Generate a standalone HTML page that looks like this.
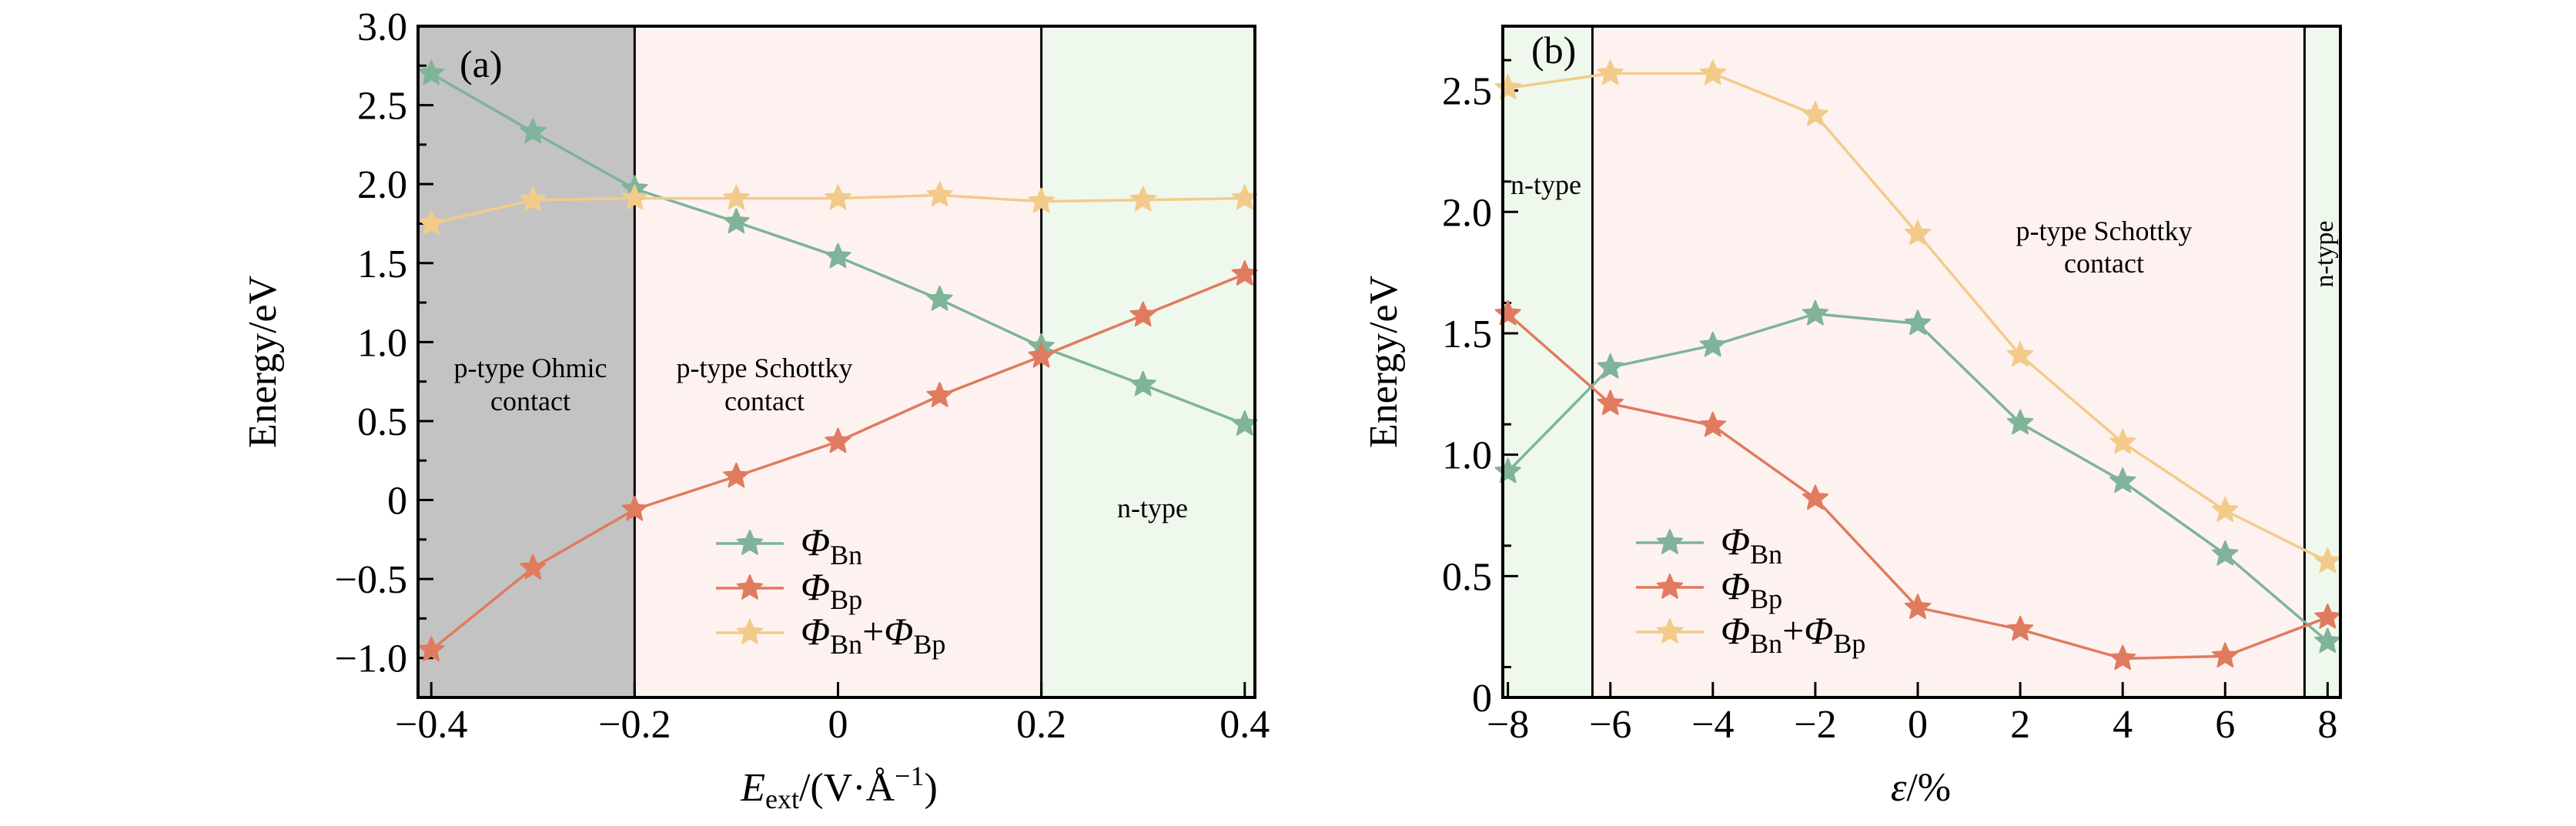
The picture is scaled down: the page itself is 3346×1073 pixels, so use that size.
<!DOCTYPE html>
<html><head><meta charset="utf-8"><style>
html,body{margin:0;padding:0;background:#fff;}
svg{display:block;font-family:"Liberation Serif",serif;}
</style></head><body>
<svg id="chart" width="3346" height="1073" viewBox="0 0 3346 1073" xmlns="http://www.w3.org/2000/svg"></svg>
<script>
// Panel (a) data
const xA = [-0.4,-0.3,-0.2,-0.1,0,0.1,0.2,0.3,0.4];
const bnA = [2.70,2.33,1.97,1.76,1.54,1.27,0.97,0.73,0.48];
const bpA = [-0.95,-0.43,-0.06,0.15,0.37,0.66,0.91,1.17,1.43];
const sumA = [1.75,1.90,1.91,1.91,1.91,1.93,1.89,1.90,1.91];
const xTicksA = [-0.4,-0.2,0,0.2,0.4];
const xTickLabelsA = ["\u22120.4","\u22120.2","0","0.2","0.4"];
const yTicksA = [-1.0,-0.5,0,0.5,1.0,1.5,2.0,2.5,3.0];
const yTickLabelsA = ["\u22121.0","\u22120.5","0","0.5","1.0","1.5","2.0","2.5","3.0"];
// Panel (b) data
const xB = [-8,-6,-4,-2,0,2,4,6,8];
const bnB = [0.93,1.36,1.45,1.58,1.54,1.13,0.89,0.59,0.23];
const bpB = [1.58,1.21,1.12,0.82,0.37,0.28,0.16,0.17,0.33];
const sumB = [2.51,2.57,2.57,2.40,1.91,1.41,1.05,0.77,0.56];
const xTicksB = [-8,-6,-4,-2,0,2,4,6,8];
const xTickLabelsB = ["\u22128","\u22126","\u22124","\u22122","0","2","4","6","8"];
const yTicksB = [0,0.5,1.0,1.5,2.0,2.5];
const yTickLabelsB = ["0","0.5","1.0","1.5","2.0","2.5"];

const NS="http://www.w3.org/2000/svg";
const svg=document.getElementById('chart');
function mk(tag,attrs,parent){const e=document.createElementNS(NS,tag);for(const k in attrs)e.setAttribute(k,attrs[k]);(parent||svg).appendChild(e);return e;}
const C_BN="#7fb39a",C_BP="#e07b5f",C_SUM="#f2cb8b";

function star(cx,cy,r,color,parent){
  let p=[];for(let i=0;i<10;i++){const a=-Math.PI/2+i*Math.PI/5;const rr=i%2?r*0.45:r;p.push((cx+rr*Math.cos(a)).toFixed(1)+","+(cy+rr*Math.sin(a)).toFixed(1));}
  const s=mk('polygon',{points:p.join(' '),fill:color,stroke:color,'stroke-width':2,'stroke-linejoin':'round'},parent);
  
  
  return s;
}

function panel(o){
  const g=mk('g',{});
  
  
  const sx=v=>o.L+(v-o.x0)/(o.x1-o.x0)*(o.R-o.L);
  const sy=v=>o.B-(v-o.y0)/(o.y1-o.y0)*(o.B-o.T);
  o.regions.forEach(r=>{
    const a=Math.max(r[0],o.x0),b=Math.min(r[1],o.x1);
    const rc=mk('rect',{x:sx(a),y:o.T,width:sx(b)-sx(a),height:o.B-o.T,fill:r[2]},g);
    
    
  });
  o.dividers.forEach(d=>{
    const l=mk('line',{x1:sx(d),x2:sx(d),y1:o.T,y2:o.B,stroke:'#000','stroke-width':3},g);
    
    
  });
  o.xt.forEach((t,i)=>{
    mk('line',{x1:sx(t),x2:sx(t),y1:o.B,y2:o.B-20,stroke:'#000','stroke-width':3},g);
    const tx=mk('text',{x:sx(t),y:o.B+52,'font-size':52,'text-anchor':'middle'},g);
    tx.textContent=o.xl[i];
    
    
  });
  o.yt.forEach((t,i)=>{
    mk('line',{x1:o.L,x2:o.L+20,y1:sy(t),y2:sy(t),stroke:'#000','stroke-width':3},g);
    const m=t+o.ystep/2; if(m<o.y1) mk('line',{x1:o.L,x2:o.L+11,y1:sy(m),y2:sy(m),stroke:'#000','stroke-width':3},g);
    const tx=mk('text',{x:o.L-14,y:sy(t)+18,'font-size':52,'text-anchor':'end'},g);
    tx.textContent=o.yl[i];
    
    
  });
  o.series.forEach(s=>{
    const sg=mk('g',{},g);
    
    
    mk('polyline',{points:o.xs.map((x,i)=>sx(x)+","+sy(s.v[i])).join(' '),fill:'none',stroke:s.c,'stroke-width':3.5},sg);
    o.xs.forEach((x,i)=>star(sx(x),sy(s.v[i]),17,s.c,sg));
  });
  const fr=mk('rect',{x:o.L,y:o.T,width:o.R-o.L,height:o.B-o.T,fill:'none',stroke:'#000','stroke-width':4},g);
  
  
  o.series.forEach((s,i)=>{
    const y=o.legY+i*58;
    const lg=mk('g',{},g);
    
    
    mk('line',{x1:o.legX,x2:o.legX+88,y1:y,y2:y,stroke:s.c,'stroke-width':3.5},lg);
    star(o.legX+44,y,17,s.c,lg);
    const t=mk('text',{x:o.legX+110,y:y+15,'font-size':50},lg);
    t.innerHTML = i==0 ? `<tspan font-style="italic">Φ</tspan><tspan font-size="36" dy="12">Bn</tspan>` :
      i==1 ? `<tspan font-style="italic">Φ</tspan><tspan font-size="36" dy="12">Bp</tspan>` :
      `<tspan font-style="italic">Φ</tspan><tspan font-size="36" dy="12">Bn</tspan><tspan dy="-12">+</tspan><tspan font-style="italic">Φ</tspan><tspan font-size="36" dy="12">Bp</tspan>`;
  });
  return {sx,sy,g};
}

panel({name:'panel-a',L:543,R:1630,T:34,B:906,x0:-0.413,x1:0.41,y0:-1.25,y1:3.0,ystep:0.5,
  regions:[[-0.413,-0.2,'#c3c3c3','ohmic-region'],[-0.2,0.2,'#fef2f0','schottky-region'],[0.2,0.41,'#eff8ec','n-type-region']],
  dividers:[-0.2,0.2],xt:xTicksA,xl:xTickLabelsA,yt:yTicksA,yl:yTickLabelsA,xs:xA,
  series:[{name:'series-phi-bn',v:bnA,c:C_BN},{name:'series-phi-bp',v:bpA,c:C_BP},{name:'series-phi-sum',v:sumA,c:C_SUM}],
  legX:930,legY:706});
panel({name:'panel-b',L:1952,R:3040,T:34,B:906,x0:-8.1,x1:8.25,y0:0,y1:2.765,ystep:0.25,
  regions:[[-8.1,-6.35,'#eff8ec','n-type-region-left'],[-6.35,7.55,'#fef2f0','schottky-region'],[7.55,8.25,'#eff8ec','n-type-region-right']],
  dividers:[-6.35,7.55],xt:xTicksB,xl:xTickLabelsB,yt:yTicksB,yl:yTickLabelsB,xs:xB,
  series:[{name:'series-phi-bn',v:bnB,c:C_BN},{name:'series-phi-bp',v:bpB,c:C_BP},{name:'series-phi-sum',v:sumB,c:C_SUM}],
  legX:2125,legY:705});

function txt(x,y,s,size,attrs,name){const t=mk('text',Object.assign({x:x,y:y,'font-size':size},attrs||{}));t.textContent=s;
  
  return t;}
txt(597,100,'(a)',50,{},'panel-a-label');
txt(1989,82,'(b)',50,{},'panel-b-label');
txt(689,490,'p-type Ohmic',36,{'text-anchor':'middle'},'ohmic-annotation');
txt(689,533,'contact',36,{'text-anchor':'middle'},'ohmic-annotation-2');
txt(993,490,'p-type Schottky',36,{'text-anchor':'middle'},'schottky-annotation');
txt(993,533,'contact',36,{'text-anchor':'middle'},'schottky-annotation-2');
txt(1497,672,'n-type',36,{'text-anchor':'middle'},'n-type-annotation');
txt(1962,252,'n-type',36,{},'n-type-annotation-b-left');
txt(2733,312,'p-type Schottky',36,{'text-anchor':'middle'},'schottky-annotation-b');
txt(2733,354,'contact',36,{'text-anchor':'middle'},'schottky-annotation-b-2');
txt(3022,330,'n-type',34,{'text-anchor':'middle',transform:'rotate(-90 3022 330)','dominant-baseline':'middle'},'n-type-annotation-b-right');
txt(358,470,'Energy/eV',52,{'text-anchor':'middle',transform:'rotate(-90 358 470)'},'y-axis-title-a');
txt(1814,470,'Energy/eV',52,{'text-anchor':'middle',transform:'rotate(-90 1814 470)'},'y-axis-title-b');
const xa=txt(1090,1040,'',52,{'text-anchor':'middle'},'x-axis-title-a');
xa.innerHTML='<tspan font-style="italic">E</tspan><tspan font-size="36" dy="10">ext</tspan><tspan dy="-10">/(V·Å</tspan><tspan font-size="36" dy="-20">−1</tspan><tspan dy="20">)</tspan>';
const xb=txt(2495,1040,'',52,{'text-anchor':'middle'},'x-axis-title-b');
xb.innerHTML='<tspan font-style="italic">ε</tspan>/%';
</script>
</body></html>
